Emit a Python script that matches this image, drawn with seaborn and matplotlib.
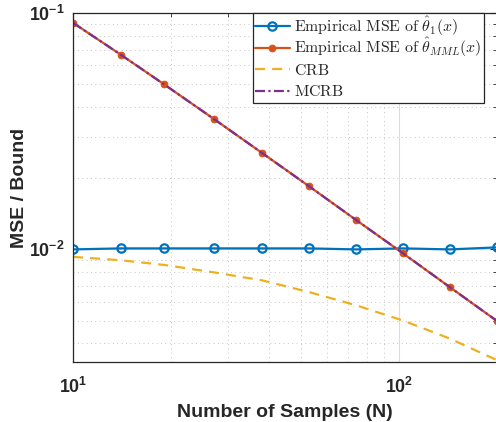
import numpy as np
import pandas as pd
import matplotlib
matplotlib.use("Agg")
import matplotlib.pyplot as plt
from matplotlib.ticker import LogLocator, NullFormatter
from matplotlib.font_manager import FontProperties
from matplotlib.offsetbox import TextArea
from matplotlib.transforms import Bbox
import seaborn as sns

# ---- data ----
n_samples = [10, 14, 19, 27, 38, 53, 74, 103, 143, 200]
mse_theta1 = [0.0100, 0.0101, 0.0101, 0.0101, 0.0101, 0.0101, 0.0100, 0.0101, 0.0100, 0.0102]
mse_mml = [0.0909, 0.0667, 0.0500, 0.0357, 0.0256, 0.0185, 0.0133, 0.00962, 0.00694, 0.00498]
crb = [0.0093, 0.0090, 0.0086, 0.0080, 0.0074, 0.0066, 0.0058, 0.0050, 0.0042, 0.0034]
mcrb = [0.0909, 0.0667, 0.0500, 0.0357, 0.0256, 0.0185, 0.0133, 0.00962, 0.00694, 0.00498]

labels = [
    r"$\mathrm{Empirical\ MSE\ of\ }\hat{\theta}_1(x)$",
    r"$\mathrm{Empirical\ MSE\ of\ }\hat{\theta}_{MML}(x)$",
    r"$\mathrm{CRB}$",
    r"$\mathrm{MCRB}$",
]
xtick_vals = [10, 100]
xtick_labels = [r"$\mathbf{10^{1}}$", r"$\mathbf{10^{2}}$"]
ytick_vals = [0.01, 0.1]
ytick_labels = [r"$\mathbf{10^{-2}}$", r"$\mathbf{10^{-1}}$"]

df = pd.DataFrame({"N": n_samples, "theta1": mse_theta1, "mml": mse_mml,
                   "crb": crb, "mcrb": mcrb})

sns.set_style("white")
plt.rcParams["font.family"] = ["Liberation Sans", "DejaVu Sans"]
plt.rcParams["mathtext.fontset"] = "custom"
plt.rcParams["mathtext.bf"] = "Liberation Sans:bold"
plt.rcParams["mathtext.rm"] = "Liberation Sans"

# MATLAB default colours
blue, orange, yellow, purple = "#0072BD", "#D95319", "#EDB120", "#7E2F8E"

fig = plt.figure(figsize=(4.96, 4.22), dpi=100)
ax = fig.add_axes([73 / 496, 60 / 422, 424 / 496, 349 / 422])

sns.lineplot(data=df, x="N", y="theta1", ax=ax, color=blue, lw=1.6,
             marker="o", markersize=6, markerfacecolor="none",
             markeredgecolor=blue, markeredgewidth=1.6, label=labels[0])
sns.lineplot(data=df, x="N", y="mml", ax=ax, color=orange, lw=1.6,
             marker="o", markersize=4.8, markeredgecolor=orange, label=labels[1])
sns.lineplot(data=df, x="N", y="crb", ax=ax, color=yellow, lw=1.6,
             linestyle=(0, (4.5, 3.2)), label=labels[2])
sns.lineplot(data=df, x="N", y="mcrb", ax=ax, color=purple, lw=1.6,
             linestyle=(0, (4.5, 1.5, 1, 1.5)), label=labels[3])

ax.set_xscale("log")
ax.set_yscale("log")
ax.set_xlim(10, 200)
ax.set_ylim(0.00334, 0.1)

ax.set_xticks(xtick_vals)
ax.set_xticklabels(xtick_labels)
ax.set_yticks(ytick_vals)
ax.set_yticklabels(ytick_labels)
ax.xaxis.set_minor_locator(LogLocator(base=10, subs=np.arange(2, 10)))
ax.yaxis.set_minor_locator(LogLocator(base=10, subs=np.arange(2, 10)))
ax.xaxis.set_minor_formatter(NullFormatter())
ax.yaxis.set_minor_formatter(NullFormatter())

ax.tick_params(which="both", direction="in", top=True, right=True,
               colors="#262626", labelcolor="#262626")
ax.tick_params(which="major", length=5, width=0.8, labelsize=12.8, pad=6)
ax.tick_params(which="minor", length=3, width=0.6)
ax.tick_params(axis="x", which="major", pad=11)

ax.grid(which="major", color="#dcdcdc", lw=0.8, ls="-")
ax.grid(which="minor", color="#c4c4c4", lw=0.7, ls=(0, (1, 3.5)))
ax.set_axisbelow(True)
for s in ax.spines.values():
    s.set_color("#262626")
    s.set_linewidth(0.9)

ax.set_xlabel("Number of Samples (N)", fontsize=14, fontweight="bold",
              color="#262626", labelpad=5)
ax.set_ylabel("MSE / Bound", fontsize=14, fontweight="bold", color="#262626")
ax.yaxis.set_label_coords(-0.106, 0.5)

leg_font = FontProperties(size=11.4, math_fontfamily="cm")
leg = ax.legend(loc="upper left", bbox_to_anchor=((253 - 73) / 424, 1.0),
                borderaxespad=0, prop=leg_font, frameon=True, fancybox=False,
                framealpha=1, edgecolor="#262626", handlelength=2.2,
                handletextpad=0.3, labelspacing=0.0, borderpad=0.12)
leg.get_frame().set_linewidth(0.9)

# MATLAB spaces legend rows evenly, whatever the hats and subscripts
for ta in leg.findobj(TextArea):
    if ta.get_text() == "":
        continue
    def even_row(renderer, orig=ta.get_bbox):
        bb = orig(renderer)
        return Bbox.from_bounds(bb.x0, -4.5, bb.width, 21.5)
    ta.get_bbox = even_row

fig.savefig("out.png", dpi=100)
